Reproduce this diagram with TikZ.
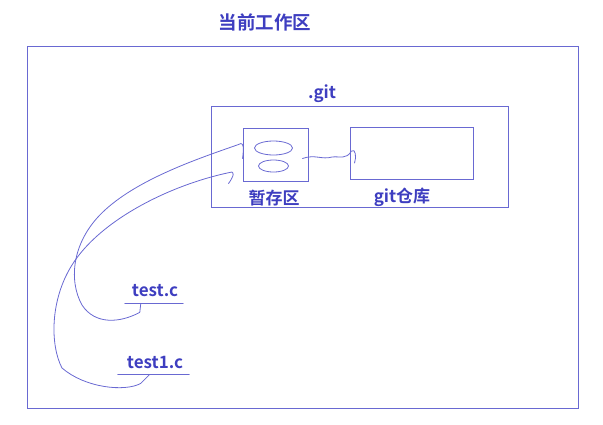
\documentclass[tikz,border=0pt]{standalone}
\usepackage{fontspec}
\newfontfamily\cjk{Noto Sans CJK SC}[BoldFont={Noto Sans CJK SC Bold}]
\usetikzlibrary{calc}
\definecolor{penColor}{RGB}{105,105,210}
\definecolor{textColor}{RGB}{62,62,192}

\begin{document}
\begin{tikzpicture}[x=1pt, y=-1pt,
    pen/.style={penColor, line width=0.8pt, line cap=round, line join=round},
    box/.style={draw=penColor, line width=0.9pt, inner sep=0pt},
    lbl/.style={textColor, inner sep=1pt, font=\cjk\bfseries\fontsize{17}{19}\selectfont}]
                \useasboundingbox (0,0) rectangle (603,424);
                % Zona de trabajo
                \node[box, minimum width=551pt, minimum height=362pt] (work) at (302.5,227) {};
                \node[lbl, font=\cjk\bfseries\fontsize{18.5}{20}\selectfont] (title) at (265,22) {当前工作区};

                % Carpeta .git
                \node[box, minimum width=297pt, minimum height=101pt] (git) at (359.5,156.5) {};
                \node[lbl] (gitlbl) at (322,94) {.git};

                % Area de preparacion y repositorio
                \node[box, minimum width=65pt, minimum height=53pt] (stage) at (275.5,154.5) {};
                \node[box, minimum width=123pt, minimum height=52pt] (repo) at (411.5,153) {};
                \node[lbl, fill=white, inner xsep=4pt] (stagelbl) at (274,198) {暂存区};
                \node[lbl] (repolbl) at (402,197) {git仓库};

                % contenido del area
                \draw[pen] (stage.center) ++(-2,-6.5) ellipse (19 and 7);
                \draw[pen] (stage.center) ++(-2,11.5) ellipse (15 and 6);

                % archivos
                \node[lbl] (testc) at (155,291) {test.c};
                \node[lbl] (testa) at (155,362) {test1.c};
                \draw[pen] ($(testc.south west)+(-6,5)$) coordinate (ua) -- ($(testc.south east)+(4,5)$);
                \draw[pen] ($(testa.south west)+(-8,5)$) coordinate (ub) -- ($(testa.south east)+(5,5)$);

                % trazos de git add
                \coordinate (hooka) at ($(stage.west)+(-4,-10)$);
                \coordinate (hookb) at ($(stage.west)+(-13,18)$);
                \draw[pen] ($(ua)+(16,0)$) -- ++(-1,9) .. controls (120,323) and (95,325) .. (82,305)
                    .. controls (68,280) and (72,240) .. (105,210)
                    .. controls (140,178) and (200,158) .. (hooka)
                    .. controls ($(hooka)+(6,-4)$) and ($(hooka)+(5,6)$) .. ($(hooka)+(4,14)$);
                \draw[pen] ($(ub)+(32,0)$) -- ++(-9,9) .. controls (125,392) and (85,388) .. (62,368)
                    .. controls (50,345) and (50,300) .. (72,265)
                    .. controls (100,220) and (170,185) .. (hookb)
                    .. controls ($(hookb)+(6,-2)$) and ($(hookb)+(4,4)$) .. ($(hookb)+(-1,11)$);

                % paso al repositorio
                \draw[pen] ($(stage.east)+(-6,4)$) .. controls (315,154) and (322,160) .. (332,157)
                    .. controls (340,156) and (346,160) .. ($(repo.west)+(2,-2)$)
                    .. controls ($(repo.west)+(6,-5)$) and ($(repo.west)+(7,4)$) .. ($(repo.west)+(5,10)$);
\end{tikzpicture}
\end{document}
